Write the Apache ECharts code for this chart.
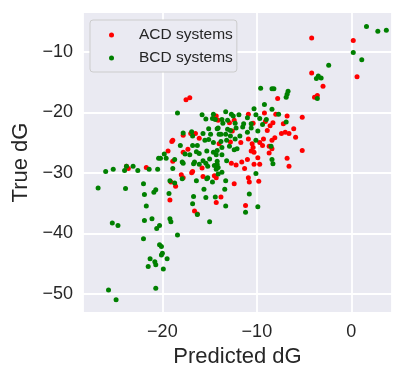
<!DOCTYPE html>
<html>
<head>
<meta charset="utf-8">
<script src="https://cdn.jsdelivr.net/npm/echarts@6/dist/echarts.min.js"></script>
<style>
  html, body { margin: 0; padding: 0; background: #fff; }
  #main { width: 393px; height: 373px; }
</style>
</head>
<body>
<div id="main"></div>
<script>
// series names
const seriesNames = ['ACD systems', 'BCD systems'];

// ACD systems (red): [predicted dG, true dG]
const acdPoints = [
  [-4.2, -7.7], [0.2, -8.1], [-4.2, -13.5], [0.6, -14.1], [-3.0, -15.7], [-3.9, -17.5],
  [-3.6, -17.2], [-7.8, -17.7], [-6.8, -20.6], [-5.2, -20.8], [-7.2, -21.9], [-6.1, -22.7],
  [-7.4, -23.5], [-7.0, -23.3], [-6.6, -23.5], [-5.9, -24.1], [-5.2, -26.3], [-6.8, -27.6],
  [-6.6, -28.9], [-8.0, -20.3], [-8.3, -21.7], [-9.1, -21.5], [-9.2, -20.1], [-14.3, -20.6],
  [-10.9, -20.3], [-8.6, -22.2], [-8.9, -23.0], [-8.1, -24.2], [-12.6, -23.1], [-11.7, -25.0],
  [-10.9, -24.4], [-9.7, -25.0], [-9.4, -25.5], [-10.5, -25.2], [-8.7, -25.6], [-8.4, -26.0],
  [-17.5, -17.9], [-17.1, -17.6], [-17.8, -23.8], [-16.5, -23.5], [-17.0, -23.5], [-18.9, -24.6],
  [-19.0, -24.8], [-17.8, -26.6], [-17.3, -26.1], [-19.4, -26.4], [-23.8, -28.9], [-23.6, -29.3],
  [-21.7, -29.1], [-18.0, -30.3], [-17.8, -30.8], [-18.9, -28.1], [-16.8, -29.8], [-19.1, -31.5],
  [-18.6, -32.2], [-19.2, -34.5], [-16.6, -36.3], [-16.3, -36.8], [-15.7, -30.6], [-12.4, -31.8],
  [-10.9, -30.8], [-10.8, -31.5], [-9.8, -31.4], [-13.8, -34.0], [-14.3, -34.9], [-11.2, -35.4],
  [-10.6, -26.4], [-10.3, -26.6], [-10.4, -25.8], [-8.7, -26.7], [-12.7, -28.4], [-12.2, -28.7],
  [-11.6, -28.2], [-11.0, -27.8], [-10.3, -28.6], [-9.7, -28.6], [-9.9, -27.5], [-15.8, -29.2],
  [-16.9, -30.0], [-14.5, -30.5], [-14.3, -30.8], [-16.1, -24.3], [-12.8, -24.9], [-14.0, -25.2],
  [-14.1, -21.3], [-12.9, -21.7], [-12.4, -21.3], [-9.3, -24.4], [-8.4, -24.6], [-10.4, -21.8],
  [-11.3, -29.3]
];

// BCD systems (green): [predicted dG, true dG]
const bcdPoints = [
  [1.6, -5.8], [2.8, -6.6], [3.7, -6.4], [0.2, -10.1], [1.1, -11.3], [-2.4, -12.2],
  [-3.7, -14.4], [-3.5, -14.0], [-3.2, -14.3], [-6.7, -16.5], [-6.8, -17.0], [-6.9, -17.5],
  [-3.6, -17.7], [-9.6, -16.0], [-8.4, -16.1], [-8.2, -16.1], [-9.2, -18.7], [-10.3, -19.4],
  [-8.4, -19.5], [-7.7, -20.3], [-6.9, -21.6], [-18.4, -20.1], [-17.8, -23.4], [-16.9, -23.2],
  [-16.8, -23.9], [-18.1, -25.5], [-16.3, -25.5], [-19.8, -26.9], [-20.4, -27.6], [-19.6, -27.6],
  [-20.2, -27.6], [-18.7, -27.8], [-17.9, -28.2], [-26.0, -29.8], [-25.2, -29.4], [-24.0, -29.6],
  [-23.8, -28.9], [-23.1, -28.9], [-22.6, -29.6], [-21.4, -29.4], [-20.5, -29.4], [-18.9, -29.3],
  [-17.9, -31.0], [-19.2, -31.3], [-18.7, -31.7], [-26.8, -32.5], [-23.9, -32.6], [-22.0, -31.8],
  [-21.9, -33.6], [-20.9, -33.2], [-20.7, -32.8], [-19.3, -33.4], [-21.7, -35.5], [-21.9, -37.9],
  [-21.1, -37.6], [-25.3, -38.3], [-24.7, -38.7], [-19.2, -37.6], [-19.1, -38.1], [-20.6, -39.2],
  [-20.3, -38.7], [-22.0, -40.9], [-18.4, -40.3], [-20.3, -41.9], [-20.1, -42.2], [-20.0, -43.3],
  [-20.1, -43.6], [-19.5, -44.2], [-21.3, -44.2], [-20.8, -44.7], [-20.7, -45.2], [-21.5, -45.5],
  [-19.9, -45.9], [-20.7, -49.1], [-25.7, -49.4], [-24.9, -51.0], [-15.2, -30.8], [-16.4, -31.3],
  [-14.7, -31.5], [-13.3, -31.3], [-15.6, -32.7], [-13.4, -32.7], [-16.7, -33.9], [-15.4, -34.1],
  [-16.8, -35.1], [-13.3, -35.5], [-10.8, -33.5], [-9.9, -35.6], [-11.2, -36.5], [-16.3, -36.9],
  [-15.0, -38.1], [-12.4, -26.2], [-12.1, -26.0], [-8.5, -25.6], [-14.3, -27.0], [-13.7, -27.0],
  [-13.2, -28.0], [-8.4, -27.8], [-8.3, -28.5], [-14.1, -29.1], [-14.3, -29.4], [-14.1, -30.2],
  [-13.7, -29.9], [-10.1, -30.1], [-17.8, -28.4], [-16.7, -28.5], [-16.1, -28.6], [-15.4, -28.4],
  [-15.2, -28.9], [-14.5, -28.8], [-14.2, -28.6], [-15.3, -31.0], [-14.4, -34.0], [-15.8, -20.4],
  [-14.6, -20.3], [-14.7, -21.0], [-14.4, -21.2], [-15.4, -21.1], [-15.7, -23.5], [-15.1, -22.7],
  [-14.9, -23.6], [-14.2, -22.7], [-14.0, -23.6], [-15.5, -24.6], [-15.1, -24.5], [-14.6, -25.0],
  [-16.8, -25.5], [-16.4, -26.5], [-16.1, -26.8], [-15.3, -26.4], [-14.6, -26.6], [-14.2, -26.3],
  [-17.6, -26.9], [-17.1, -27.0], [-16.6, -28.2], [-15.7, -28.0], [-15.0, -27.7], [-14.2, -28.1],
  [-13.3, -19.9], [-12.7, -20.3], [-12.5, -20.6], [-11.9, -20.4], [-11.0, -20.9], [-10.1, -20.4],
  [-9.7, -21.0], [-13.7, -21.2], [-13.1, -21.3], [-13.6, -21.8], [-11.4, -21.9], [-10.6, -21.9],
  [-10.6, -22.6], [-9.9, -23.1], [-14.1, -22.6], [-13.1, -22.8], [-12.8, -23.0], [-12.2, -22.6],
  [-11.5, -22.4], [-13.8, -23.6], [-13.3, -23.6], [-12.8, -23.9], [-12.3, -24.4], [-10.1, -24.6],
  [-13.8, -24.8], [-13.2, -24.6], [-12.9, -25.6], [-13.7, -25.8], [-12.3, -21.8], [-11.8, -23.9],
  [-11.0, -23.3], [-9.4, -22.0], [-9.0, -21.2]
];

// axis extents
const xRange = [-28.4, 4.3];
const yRange = [-53.2, -3.4];

const FONT = '"Liberation Sans", Arial, sans-serif';
const TXT = '#262626';
const minus = v => String(v).replace('-', '\u2212');

const chart = echarts.init(document.getElementById('main'), null, { renderer: 'canvas' });

chart.setOption({
  backgroundColor: '#fff',
  animation: false,
  grid: { left: 83, top: 12, right: 1, bottom: 50, backgroundColor: '#eaeaf2', show: true, borderWidth: 0 },
  legend: {
    left: 90, top: 20,
    orient: 'vertical',
    padding: [7, 4, 6, 19],
    itemWidth: 45, itemHeight: 5, itemGap: 7,
    backgroundColor: '#eaeaf2',
    borderColor: '#cccccc', borderWidth: 1, borderRadius: 3,
    textStyle: { fontFamily: FONT, fontSize: 15.5, color: TXT },
    data: seriesNames.map(n => ({ name: n, icon: 'circle' }))
  },
  xAxis: {
    type: 'value',
    min: xRange[0], max: xRange[1],
    splitNumber: 3, minInterval: 10, maxInterval: 10,
    name: 'Predicted dG', nameLocation: 'middle', nameGap: 27,
    nameTextStyle: { fontFamily: FONT, fontSize: 22, color: TXT },
    axisLine: { show: false }, axisTick: { show: false },
    axisLabel: { fontFamily: FONT, fontSize: 18, color: TXT, margin: 10, showMinLabel: false, showMaxLabel: false, formatter: minus },
    splitLine: { show: true, lineStyle: { color: '#ffffff', width: 1.8 } }
  },
  yAxis: {
    type: 'value',
    min: yRange[0], max: yRange[1],
    splitNumber: 5, minInterval: 10, maxInterval: 10,
    name: 'True dG', nameLocation: 'middle', nameGap: 50,
    nameTextStyle: { fontFamily: FONT, fontSize: 22, color: TXT },
    axisLine: { show: false }, axisTick: { show: false },
    axisLabel: { fontFamily: FONT, fontSize: 18, color: TXT, margin: 10, showMinLabel: false, showMaxLabel: false, formatter: minus },
    splitLine: { show: true, lineStyle: { color: '#ffffff', width: 1.8 } }
  },
  series: [
    { name: seriesNames[0], type: 'scatter', symbolSize: 5, itemStyle: { color: '#ff0000', opacity: 1 }, data: acdPoints },
    { name: seriesNames[1], type: 'scatter', symbolSize: 5, itemStyle: { color: '#008000', opacity: 1 }, data: bcdPoints }
  ]
});
</script>
</body>
</html>
